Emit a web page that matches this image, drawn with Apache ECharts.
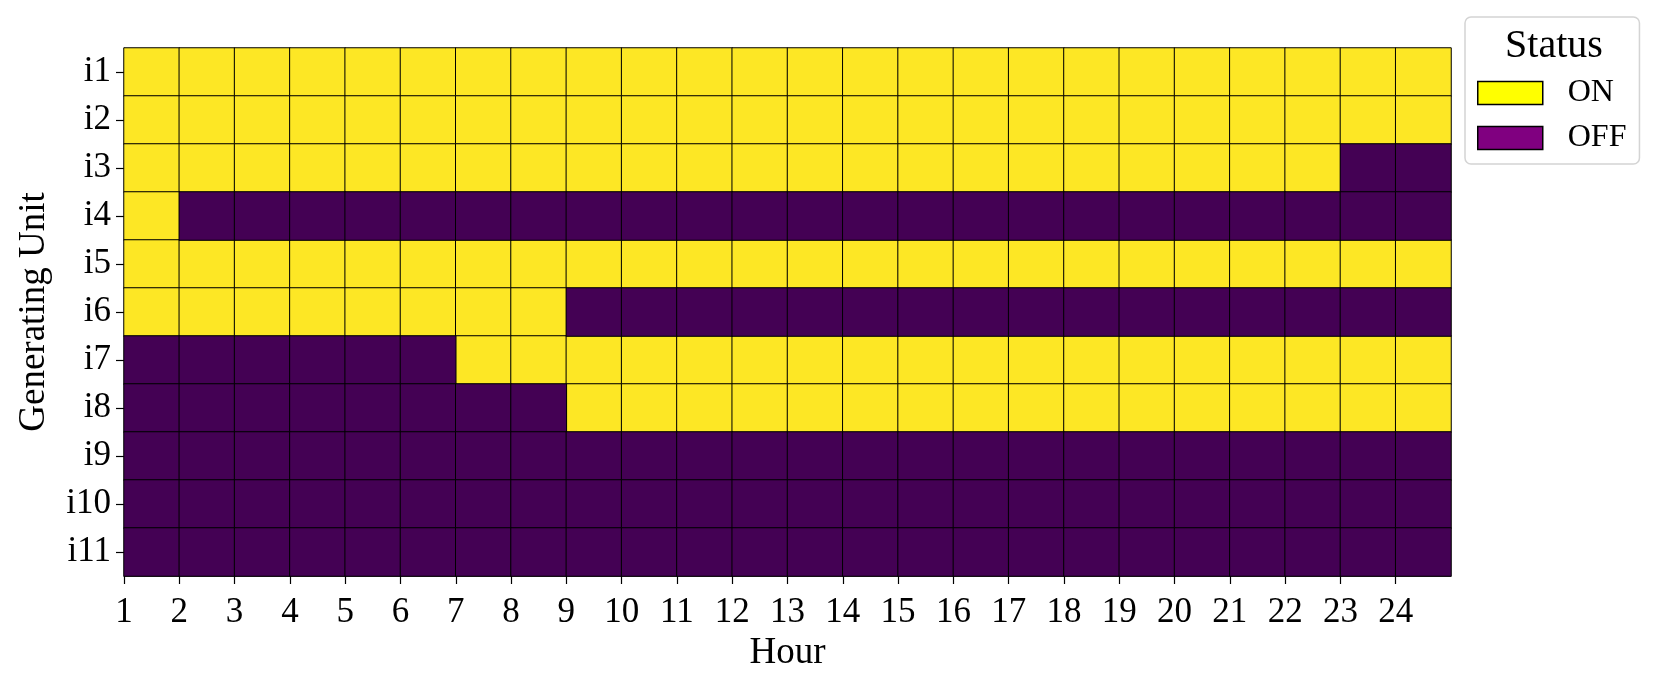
<!DOCTYPE html>
<html>
<head>
<meta charset="utf-8">
<script src="https://cdn.jsdelivr.net/npm/echarts@6/dist/echarts.min.js"></script>
<style>
  html, body { margin: 0; padding: 0; background: #fff; }
  #myChart { width: 1661px; height: 687px; }
</style>
</head>
<body>
<div id="myChart"></div>
<script>
// data
var hours = ['1','2','3','4','5','6','7','8','9','10','11','12','13','14','15','16','17','18','19','20','21','22','23','24'];
var hourTicks = hours.concat(['']);   // tick labels sit on cell edges, last edge has none
var units = ['i1','i2','i3','i4','i5','i6','i7','i8','i9','i10','i11'];
// 1 = ON, 0 = OFF, one row per unit, hours 1..24
var unitStatus = [
  [1,1,1,1,1,1,1,1,1,1,1,1,1,1,1,1,1,1,1,1,1,1,1,1],
  [1,1,1,1,1,1,1,1,1,1,1,1,1,1,1,1,1,1,1,1,1,1,1,1],
  [1,1,1,1,1,1,1,1,1,1,1,1,1,1,1,1,1,1,1,1,1,1,0,0],
  [1,0,0,0,0,0,0,0,0,0,0,0,0,0,0,0,0,0,0,0,0,0,0,0],
  [1,1,1,1,1,1,1,1,1,1,1,1,1,1,1,1,1,1,1,1,1,1,1,1],
  [1,1,1,1,1,1,1,1,0,0,0,0,0,0,0,0,0,0,0,0,0,0,0,0],
  [0,0,0,0,0,0,1,1,1,1,1,1,1,1,1,1,1,1,1,1,1,1,1,1],
  [0,0,0,0,0,0,0,0,1,1,1,1,1,1,1,1,1,1,1,1,1,1,1,1],
  [0,0,0,0,0,0,0,0,0,0,0,0,0,0,0,0,0,0,0,0,0,0,0,0],
  [0,0,0,0,0,0,0,0,0,0,0,0,0,0,0,0,0,0,0,0,0,0,0,0],
  [0,0,0,0,0,0,0,0,0,0,0,0,0,0,0,0,0,0,0,0,0,0,0,0]
];

var FONT = '"Liberation Serif", "DejaVu Serif", serif';

function cells(val) {
  var out = [];
  unitStatus.forEach(function (row, u) {
    row.forEach(function (s, h) {
      if (s === val) out.push([h, u, s]);
    });
  });
  return out;
}

var chart = echarts.init(document.getElementById('myChart'));
chart.setOption({
  animation: false,
  grid: { left: 124, top: 48, right: 210, bottom: 111 },
  xAxis: [{
    type: 'category',
    data: hours,
    show: false
  }, {
    type: 'category',
    data: hourTicks,
    boundaryGap: false,
    position: 'bottom',
    name: 'Hour',
    nameLocation: 'middle',
    nameGap: 56,
    nameTextStyle: { fontFamily: FONT, fontSize: 37, color: '#000' },
    axisLine: { show: true, lineStyle: { color: '#555', width: 1 } },
    axisTick: {
      show: true,
      length: 8,
      interval: function (i) { return i < hours.length; },
      lineStyle: { color: '#000', width: 1.2 }
    },
    axisLabel: {
      interval: function (i) { return i < hours.length; },
      margin: 19,
      fontFamily: FONT, fontSize: 35, color: '#000'
    },
    splitLine: { show: false }
  }],
  yAxis: {
    type: 'category',
    data: units,
    inverse: true,
    name: 'Generating Unit',
    nameLocation: 'middle',
    nameRotate: 90,
    nameGap: 71,
    nameTextStyle: { fontFamily: FONT, fontSize: 37, color: '#000' },
    axisLine: { show: true, lineStyle: { color: '#555', width: 1 } },
    axisTick: { show: true, alignWithLabel: true, length: 8, lineStyle: { color: '#000', width: 1.2 } },
    axisLabel: { margin: 13, fontFamily: FONT, fontSize: 35, color: '#000' },
    splitLine: { show: false }
  },
  legend: {
    orient: 'vertical',
    left: 1465,
    top: 17,
    padding: [60, 13, 10, 12],
    itemWidth: 65,
    itemHeight: 23,
    itemGap: 13,
    selectedMode: false,
    backgroundColor: '#fff',
    borderColor: '#d4d4d4',
    borderWidth: 1.5,
    borderRadius: 6,
    textStyle: { fontFamily: FONT, fontSize: 32, color: '#000', padding: [0, 0, 0, 20] },
    data: [
      { name: 'ON', icon: 'rect', itemStyle: { color: '#ffff00', borderColor: '#000', borderWidth: 1.5 } },
      { name: 'OFF', icon: 'rect', itemStyle: { color: '#800080', borderColor: '#000', borderWidth: 1.5 } }
    ]
  },
  graphic: [{
    type: 'text',
    x: 1554,
    y: 46,
    z: 100,
    style: {
      text: 'Status',
      textAlign: 'center',
      textVerticalAlign: 'middle',
      fontFamily: FONT,
      fontSize: 40,
      fill: '#000'
    }
  }],
  series: [{
    name: 'ON',
    type: 'heatmap',
    xAxisIndex: 0,
    data: cells(1),
    itemStyle: { color: '#fde725', borderColor: '#000', borderWidth: 1 },
    emphasis: { disabled: true }
  }, {
    name: 'OFF',
    type: 'heatmap',
    xAxisIndex: 0,
    data: cells(0),
    itemStyle: { color: '#440154', borderColor: '#000', borderWidth: 1 },
    emphasis: { disabled: true }
  }]
});
</script>
</body>
</html>
